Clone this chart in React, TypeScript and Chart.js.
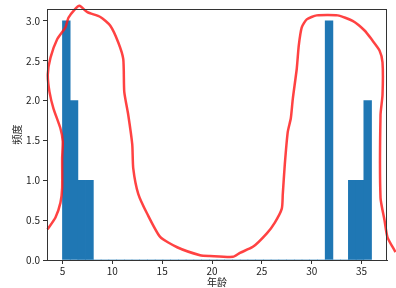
import React, { useEffect, useRef } from "react";
import { Chart, registerables } from "chart.js";

Chart.register(...registerables);

// Histogram of ages: 40 bins between 5 and 36
const binStart = 5;
const binEnd = 36;
const counts = [
  3, 2, 1, 1, 0, 0, 0, 0, 0, 0,
  0, 0, 0, 0, 0, 0, 0, 0, 0, 0,
  0, 0, 0, 0, 0, 0, 0, 0, 0, 0,
  0, 0, 0, 0, 3, 0, 0, 1, 1, 2,
];
const xTicks = [5, 10, 15, 20, 25, 30, 35];
const yTicks = [0, 0.5, 1.0, 1.5, 2.0, 2.5, 3.0];

// Hand-drawn red outline
const curveX = [
  3.5, 4.3, 4.8, 4.97, 4.97, 5.03, 4.8, 4.1, 3.7, 3.53, 3.8, 4.47, 5.3, 5.6, 6.2, 6.7,
  7.5, 8.8, 9.8, 10.6, 11.1, 11.2, 11.6, 12.0, 12.1, 12.6, 13.5, 14.8, 16.5, 18.8,
  19.8, 22.1, 22.8, 24.1, 25.5, 26.3, 27.0, 27.1, 27.3, 27.6, 27.9, 28.1, 28.5, 28.7,
  29.0, 29.5, 30.5, 32.6, 34.1, 35.3, 36.0, 36.8, 37.1, 37.1, 36.9, 36.9, 37.3, 37.6, 38.4,
];
const curveY = [
  0.385, 0.534, 0.72, 0.906, 1.28, 1.49, 1.65, 1.9, 2.11, 2.33, 2.54, 2.77, 2.92, 3.04, 3.14, 3.19,
  3.11, 3.05, 2.94, 2.73, 2.52, 2.11, 1.82, 1.45, 1.15, 0.83, 0.58, 0.29, 0.16, 0.06,
  0.05, 0.04, 0.09, 0.165, 0.335, 0.47, 0.645, 0.83, 1.2, 1.61, 1.775, 2.02, 2.4, 2.69,
  2.92, 3.02, 3.07, 3.07, 3.0, 2.88, 2.77, 2.63, 2.48, 2.07, 1.82, 0.78, 0.5, 0.285, 0.1,
];

const FONT = "'Noto Sans CJK SC', 'DejaVu Sans', sans-serif";

const framePlugin = {
  id: "frame",
  afterDatasetsDraw(chart: any) {
    const { ctx, chartArea } = chart;
    ctx.save();
    ctx.strokeStyle = "#333";
    ctx.lineWidth = 1;
    ctx.strokeRect(
      Math.round(chartArea.left) + 0.5,
      Math.round(chartArea.top) + 0.5,
      Math.round(chartArea.right - chartArea.left) - 1,
      Math.round(chartArea.bottom - chartArea.top)
    );
    ctx.restore();
  },
};

export default function App() {
  const ref = useRef<HTMLCanvasElement>(null);

  useEffect(() => {
    if (!ref.current) return;
    const w = (binEnd - binStart) / counts.length;
    const barData = counts.map((c, i) => ({ x: binStart + (i + 0.5) * w, y: c }));
    const lineData = curveX.map((x, i) => ({ x, y: curveY[i] }));
    const margin = (binEnd - binStart) * 0.05;

    const chart = new Chart(ref.current, {
      type: "bar",
      data: {
        datasets: [
          {
            type: "line",
            data: lineData,
            borderColor: "rgba(255,25,25,0.82)",
            borderWidth: 2.5,
            pointRadius: 0,
            tension: 0.2,
            fill: false,
            clip: false as any,
            order: 0,
          } as any,
          {
            type: "bar",
            data: barData,
            backgroundColor: "#1f77b4",
            borderWidth: 0,
            barPercentage: 1.0,
            categoryPercentage: 1.0,
            order: 1,
          } as any,
        ],
      },
      options: {
        animation: false,
        responsive: false,
        layout: { padding: { top: 6, right: 9, left: 0, bottom: 0 } },
        plugins: { legend: { display: false }, tooltip: { enabled: false } },
        scales: {
          x: {
            type: "linear",
            min: binStart - margin,
            max: binEnd + margin,
            offset: false,
            afterBuildTicks: (s: any) => {
              s.ticks = xTicks.map((v) => ({ value: v }));
            },
            afterFit: (s: any) => {
              s.height = 28;
            },
            grid: {
              offset: false,
              drawOnChartArea: false,
              drawTicks: true,
              tickLength: 4,
              color: "#333",
            },
            border: { display: true, color: "#333" },
            ticks: {
              color: "#222",
              font: { family: FONT, size: 10 },
              padding: 1,
              maxRotation: 0,
              autoSkip: false,
              callback: (v: any) => String(v),
            },
            title: {
              display: true,
              text: "年龄",
              color: "#222",
              font: { family: FONT, size: 10 },
              padding: { top: 0, bottom: 0 },
            },
          },
          y: {
            type: "linear",
            min: 0,
            max: 3.15,
            afterBuildTicks: (s: any) => {
              s.ticks = yTicks.map((v) => ({ value: v }));
            },
            afterFit: (s: any) => {
              s.width = 47;
            },
            grid: {
              offset: false,
              drawOnChartArea: false,
              drawTicks: true,
              tickLength: 4,
              color: "#333",
            },
            border: { display: true, color: "#333" },
            ticks: {
              color: "#222",
              font: { family: FONT, size: 10 },
              padding: 3,
              autoSkip: false,
              callback: (v: any) => Number(v).toFixed(1),
            },
            title: {
              display: true,
              text: "频度",
              color: "#222",
              font: { family: FONT, size: 10 },
              padding: { top: 11, bottom: 0 },
            },
          },
        },
      },
      plugins: [framePlugin],
    });
    return () => chart.destroy();
  }, []);

  return (
    <div style={{ position: "absolute", left: 0, top: 0, width: 396, height: 288, background: "#fff" }}>
      <canvas ref={ref} width={396} height={288} />
    </div>
  );
}
